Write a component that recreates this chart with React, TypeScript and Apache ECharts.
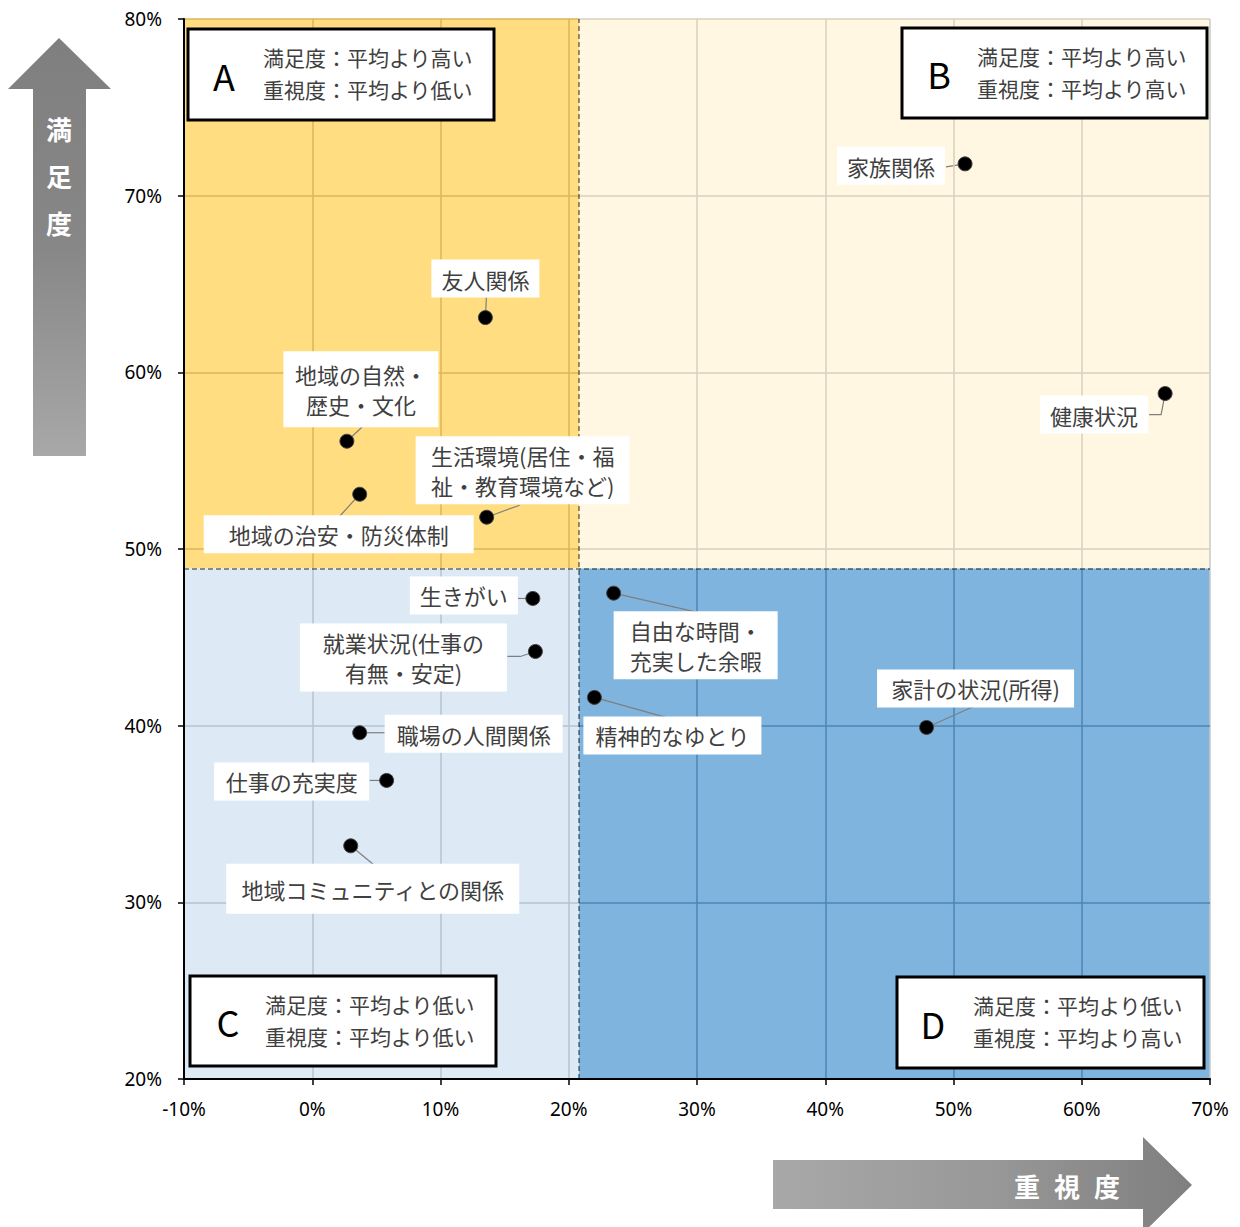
import React, { useEffect, useRef } from "react";
import * as echarts from "echarts";

// ---- data ----
const itemLabels = [
  "家族関係",
  "友人関係",
  "健康状況",
  "地域の自然・\n歴史・文化",
  "地域の治安・防災体制",
  "生活環境(居住・福\n祉・教育環境など)",
  "生きがい",
  "自由な時間・\n充実した余暇",
  "就業状況(仕事の\n有無・安定)",
  "精神的なゆとり",
  "家計の状況(所得)",
  "職場の人間関係",
  "仕事の充実度",
  "地域コミュニティとの関係",
];
const importance = [50.9, 13.5, 66.5, 2.7, 3.7, 13.6, 17.2, 23.5, 17.4, 22.0, 47.9, 3.7, 5.8, 3.0];
const satisfaction = [71.8, 63.1, 58.8, 56.1, 53.1, 51.8, 47.2, 47.5, 44.2, 41.6, 39.9, 39.6, 36.9, 33.2];

const xTicks = [-10, 0, 10, 20, 30, 40, 50, 60, 70];
const yTicks = [20, 30, 40, 50, 60, 70, 80];
const avgImportance = 20.8;
const avgSatisfaction = 48.9;

const quadrantLetters = ["A", "B", "C", "D"];
const quadrantTexts = [
  ["満足度：平均より高い", "重視度：平均より低い"],
  ["満足度：平均より高い", "重視度：平均より高い"],
  ["満足度：平均より低い", "重視度：平均より低い"],
  ["満足度：平均より低い", "重視度：平均より高い"],
];

// ---- layout / style (not data) ----
const labelOffsets: number[][] = [
  [-74, 2], [0, -39], [-71, 21], [14, -52], [-21, 40], [36, -47], [-69, -3],
  [82, 52], [-132, 6], [78, 38], [49, -39], [114, 1], [-95, 1], [22, 43],
];
const labelBoxWidths = [108, 108, 108, 155, 270, 214, 108, 164, 207, 178, 197, 178, 155, 293];
const labelPadY = [4, 4, 4, 8, 4, 4, 4, 4, 4, 4, 4, 4, 4, 10];
const leaderOffsets: number[][][] = [
  [[0, 0], [-19, 3]],
  [[0, 0], [1, -20]],
  [[0, 0], [-4, 21], [-16, 21]],
  [[0, 0], [15, -14]],
  [[0, 0], [-20, 22]],
  [[0, 0], [33, -12]],
  [[0, 0], [-15, 0]],
  [[0, 0], [83, 19]],
  [[0, 0], [-15, 5], [-28, 5]],
  [[0, 0], [75, 21]],
  [[0, 0], [47, -21]],
  [[0, 0], [25, 0]],
  [[0, 0], [-17, 0]],
  [[0, 0], [23, 19]],
];
const quadFill = { A: "#FFDD80", B: "#FFF7E2", C: "#DDEAF6", D: "#7FB4DE" };
const quadGrid = { A: "#DDB55C", B: "#D9D0BC", C: "#B4C2D0", D: "#4E84B4" };
const boxPos = [
  { x: 188, y: 29, w: 306, h: 91, lx: 224, tx: 263 },
  { x: 902, y: 28, w: 305, h: 90, lx: 939, tx: 977 },
  { x: 190, y: 976, w: 306, h: 90, lx: 228, tx: 265 },
  { x: 897, y: 977, w: 307, h: 91, lx: 933, tx: 973 },
];
const FONT = '"Noto Sans CJK JP", "Noto Sans", sans-serif';
const PADX = 10;

function quadOf(x: number, y: number): "A" | "B" | "C" | "D" {
  const left = x < avgImportance;
  const top = y > avgSatisfaction;
  if (top) return left ? "A" : "B";
  return left ? "C" : "D";
}

export default function App() {
  const ref = useRef<HTMLDivElement>(null);
  useEffect(() => {
    if (!ref.current) return;
    const chart = echarts.init(ref.current, undefined, { renderer: "svg" });
    const xMin = xTicks[0];
    const xMax = xTicks[xTicks.length - 1];
    const yMin = yTicks[0];
    const yMax = yTicks[yTicks.length - 1];

    const quadAreas = [
      [{ xAxis: xMin, yAxis: avgSatisfaction, itemStyle: { color: quadFill.A } }, { xAxis: avgImportance, yAxis: yMax }],
      [{ xAxis: avgImportance, yAxis: avgSatisfaction, itemStyle: { color: quadFill.B } }, { xAxis: xMax, yAxis: yMax }],
      [{ xAxis: xMin, yAxis: yMin, itemStyle: { color: quadFill.C } }, { xAxis: avgImportance, yAxis: avgSatisfaction }],
      [{ xAxis: avgImportance, yAxis: yMin, itemStyle: { color: quadFill.D } }, { xAxis: xMax, yAxis: avgSatisfaction }],
    ];

    const gridLines: any[] = [];
    xTicks.slice(1).forEach((x) => {
      [[yMin, avgSatisfaction], [avgSatisfaction, yMax]].forEach(([a, b]) => {
        const q = quadOf(x, (a + b) / 2);
        const color = x === xMax ? "#C8C8C8" : quadGrid[q];
        gridLines.push([{ coord: [x, a], lineStyle: { color } }, { coord: [x, b] }]);
      });
    });
    yTicks.slice(1).forEach((y) => {
      [[xMin, avgImportance], [avgImportance, xMax]].forEach(([a, b]) => {
        const q = quadOf((a + b) / 2, y);
        gridLines.push([{ coord: [a, y], lineStyle: { color: quadGrid[q] } }, { coord: [b, y] }]);
      });
    });

    const graphics: any[] = [];
    boxPos.forEach((b, i) => {
      graphics.push({
        type: "rect",
        z: 100,
        shape: { x: b.x, y: b.y, width: b.w, height: b.h },
        style: { fill: "#fff", stroke: "#000", lineWidth: 3 },
      });
      graphics.push({
        type: "text",
        z: 101,
        x: b.lx,
        y: b.y + b.h / 2,
        style: { text: quadrantLetters[i], fill: "#000", font: `36px ${FONT}`, textAlign: "center", textVerticalAlign: "middle" },
      });
      quadrantTexts[i].forEach((t, j) => {
        graphics.push({
          type: "text",
          z: 101,
          x: b.tx,
          y: b.y + 28 + j * 32,
          style: { text: t, fill: "#404040", font: `21px ${FONT}`, textAlign: "left", textVerticalAlign: "middle" },
        });
      });
    });
    graphics.push({
      type: "polygon",
      z: 50,
      shape: { points: [[59, 38], [111, 89], [86, 89], [86, 456], [33, 456], [33, 89], [8, 89]] },
      style: {
        fill: new echarts.graphic.LinearGradient(0, 0, 0, 1, [
          { offset: 0, color: "#7F7F7F" },
          { offset: 0.5, color: "#878787" },
          { offset: 1, color: "#A8A8A8" },
        ]),
      },
    });
    ["満", "足", "度"].forEach((ch, i) => {
      graphics.push({
        type: "text",
        z: 51,
        x: 59,
        y: 128 + i * 47,
        style: { text: ch, fill: "#fff", font: `bold 26px ${FONT}`, textAlign: "center", textVerticalAlign: "middle" },
      });
    });
    graphics.push({
      type: "polygon",
      z: 50,
      shape: { points: [[773, 1160], [1143, 1160], [1143, 1137], [1192, 1185], [1143, 1233], [1143, 1209], [773, 1209]] },
      style: {
        fill: new echarts.graphic.LinearGradient(0, 0, 1, 0, [
          { offset: 0, color: "#A8A8A8" },
          { offset: 0.5, color: "#999999" },
          { offset: 1, color: "#7F7F7F" },
        ]),
      },
    });
    ["重", "視", "度"].forEach((ch, i) => {
      graphics.push({
        type: "text",
        z: 51,
        x: 1027 + i * 40,
        y: 1185,
        style: { text: ch, fill: "#fff", font: `bold 26px ${FONT}`, textAlign: "center", textVerticalAlign: "middle" },
      });
    });

    const axisCommon = {
      type: "value" as const,
      interval: 10,
      z: 20,
      splitLine: { show: false },
      axisLine: { show: true, onZero: false, lineStyle: { color: "#000", width: 2 } },
      axisTick: { show: true, inside: false, length: 6, lineStyle: { color: "#000", width: 1.5 } },
      axisLabel: { formatter: "{value}%", color: "#000", fontSize: 19, fontFamily: '"Noto Sans", sans-serif' },
    };

    chart.setOption({
      animation: false,
      grid: { left: 184, right: 30, top: 19, bottom: 148, containLabel: false },
      xAxis: { ...axisCommon, min: xMin, max: xMax, axisLabel: { ...axisCommon.axisLabel, margin: 20 } },
      yAxis: { ...axisCommon, min: yMin, max: yMax, axisLabel: { ...axisCommon.axisLabel, margin: 22 } },
      series: [
        { type: "scatter", data: [], z: 1, silent: true, markArea: { silent: true, data: quadAreas } },
        {
          type: "scatter",
          data: [],
          z: 2,
          silent: true,
          markLine: {
            silent: true,
            symbol: ["none", "none"],
            label: { show: false },
            lineStyle: { type: "solid", width: 1.5 },
            data: gridLines,
          },
        },
        {
          type: "scatter",
          data: [],
          z: 3,
          silent: true,
          markLine: {
            silent: true,
            symbol: ["none", "none"],
            label: { show: false },
            lineStyle: { type: [5, 3], width: 1.5, color: "rgba(0,0,0,0.55)" },
            data: [
              [{ coord: [avgImportance, yMin] }, { coord: [avgImportance, yMax] }],
              [{ coord: [xMin, avgSatisfaction] }, { coord: [xMax, avgSatisfaction] }],
            ],
          },
        },
        {
          type: "scatter",
          z: 5,
          symbolSize: 14,
          itemStyle: { color: "#000", borderColor: "#444", borderWidth: 1, opacity: 1 },
          data: importance.map((x, i) => ({
            value: [x, satisfaction[i]],
            name: itemLabels[i],
            label: { width: labelBoxWidths[i] - 2 * PADX, padding: [labelPadY[i], PADX] },
          })),
          label: {
            show: true,
            position: "inside",
            formatter: (p: any) => itemLabels[p.dataIndex],
            color: "#404040",
            fontSize: 22,
            fontFamily: FONT,
            lineHeight: 30,
            align: "center",
            backgroundColor: "#fff",
            padding: [4, PADX],
          },
          labelLayout: (p: any) => ({ dx: labelOffsets[p.dataIndex][0], dy: labelOffsets[p.dataIndex][1] }),
          emphasis: { disabled: true },
        },
      ],
    });

    const leaders = importance.map((x, i) => {
      const p = chart.convertToPixel({ gridIndex: 0 }, [x, satisfaction[i]]) as number[];
      return {
        type: "polyline",
        z: 4,
        silent: true,
        shape: { points: leaderOffsets[i].map(([dx, dy]) => [p[0] + dx, p[1] + dy]) },
        style: { stroke: "#7F7F7F", lineWidth: 1.2, fill: null },
      };
    });
    chart.setOption({ graphic: [...graphics, ...leaders] });

    return () => chart.dispose();
  }, []);
  return <div ref={ref} style={{ position: "absolute", left: 0, top: 0, width: 1240, height: 1227 }} />;
}
